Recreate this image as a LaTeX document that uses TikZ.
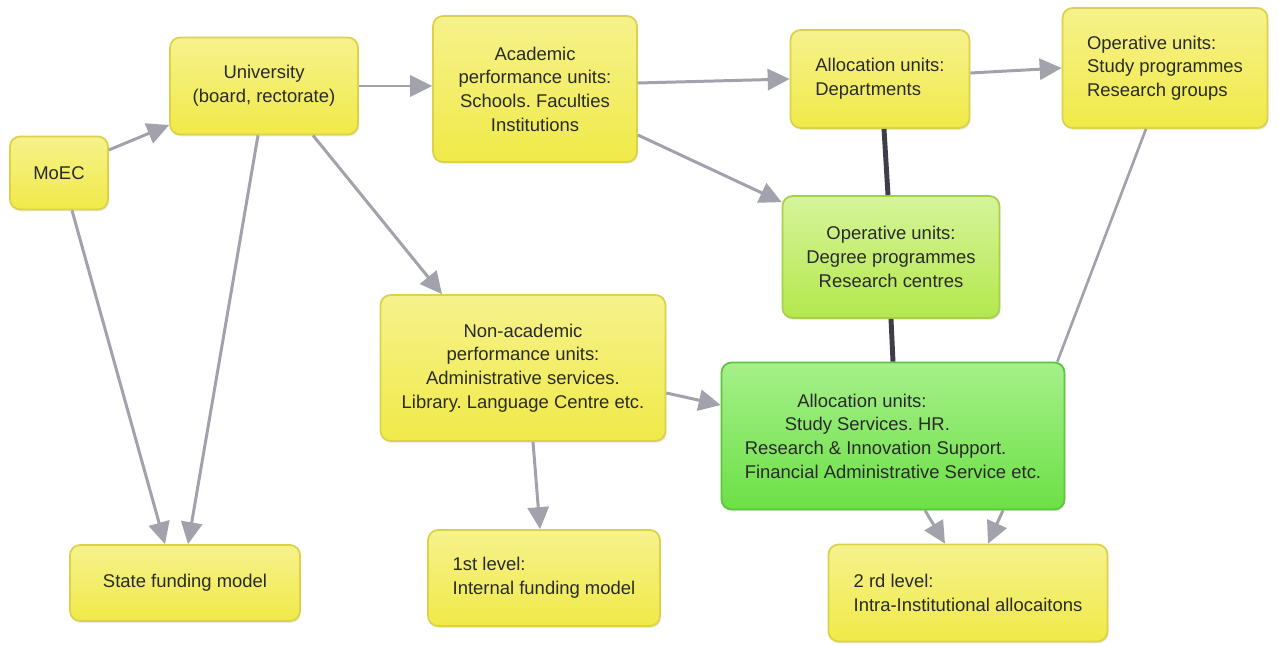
\documentclass[tikz,border=0pt]{standalone}
\usepackage{fontspec}
\setmainfont{Liberation Sans}
\usepackage{tikz}
\usetikzlibrary{arrows.meta}
\usetikzlibrary{shadows}
\frenchspacing

\definecolor{yellowtop}{HTML}{F6F28C}
\definecolor{yellowbot}{HTML}{F0EA48}
\definecolor{edgeyellow}{HTML}{DCD24A}
\definecolor{limetop}{HTML}{D6F49A}
\definecolor{limebot}{HTML}{B4E84C}
\definecolor{edgelime}{HTML}{A6D24A}
\definecolor{greentop}{HTML}{A6F08A}
\definecolor{greenbot}{HTML}{6CE046}
\definecolor{edgegreen}{HTML}{5CC43E}
\definecolor{arrowgray}{HTML}{A2A2AC}
\definecolor{linkdark}{HTML}{3E3E48}
\definecolor{textdark}{HTML}{2A2A2A}

\tikzset{
  unit/.style={draw=edgeyellow, line width=1pt, top color=yellowtop, bottom color=yellowbot,
    rounded corners=0.2cm, inner sep=0pt, align=center, text=textdark,
    font=\fontsize{10.5}{13.5}\selectfont,
    drop shadow={opacity=0.18, shadow xshift=0.5pt, shadow yshift=-1pt}},
  limeunit/.style={unit, draw=edgelime, top color=limetop, bottom color=limebot},
  greenunit/.style={unit, draw=edgegreen, top color=greentop, bottom color=greenbot},
  flow/.style={draw=arrowgray, line width=1.7pt, -{Triangle[length=12.5pt,width=12pt]}},
  tie/.style={draw=arrowgray, line width=1.5pt},
  boldtie/.style={draw=linkdark, line width=2.8pt}
}

\begin{document}
\begin{tikzpicture}[x=0.02cm,y=-0.02cm]
\useasboundingbox[fill=white] (0,0) rectangle (1279,646);

% boxes
\node[unit, minimum width=1.96cm, minimum height=1.46cm] (moec) at (59,173) {MoEC};
\node[unit, minimum width=3.76cm, minimum height=1.94cm] (uni) at (264,86) {University\\(board, rectorate)};
\node[unit, minimum width=4.08cm, minimum height=2.92cm] (acad) at (535,89) {Academic\\performance units:\\Schools. Faculties\\Institutions};
\node[unit, minimum width=3.58cm, minimum height=1.96cm, align=left] (dept) at (880,79) {Allocation units:\\Departments};
\node[unit, minimum width=4.10cm, minimum height=2.40cm, align=left] (study) at (1165,68) {Operative units:\\Study programmes\\Research groups};
\node[limeunit, minimum width=4.34cm, minimum height=2.44cm] (deg) at (891,257) {Operative units:\\Degree programmes\\Research centres};
\node[unit, minimum width=5.70cm, minimum height=2.92cm] (nonacad) at (523,368) {Non-academic\\performance units:\\Administrative services.\\Library. Language Centre etc.};
\node[greenunit, minimum width=6.86cm, minimum height=2.94cm, align=left] (serv) at (893,436) {\hspace*{1.05cm}Allocation units:\\\hspace*{0.8cm}Study Services. HR.\\Research \& Innovation Support.\\Financial Administrative Service etc.};
\node[unit, minimum width=4.60cm, minimum height=1.52cm] (state) at (185,583) {State funding model};
\node[unit, minimum width=4.64cm, minimum height=1.92cm, align=left] (first) at (544,578) {1st level:\\Internal funding model};
\node[unit, minimum width=5.58cm, minimum height=1.94cm, align=left] (second) at (968,593) {2 rd level:\\Intra-Institutional allocaitons};

% connectors
\draw[flow] ([yshift=0.46cm]moec.east) -- ([yshift=-0.78cm]uni.west);
\draw[flow] (uni.east) -- (uni.east -| acad.west);
\draw[flow] ([yshift=0.12cm]acad.east) -- (dept.west);
\draw[flow] ([yshift=0.12cm]dept.east) -- (study.west);
\draw[flow] ([yshift=-0.92cm]acad.east) -- ([yshift=-0.14cm]deg.north west);
\draw[flow] ([xshift=0.98cm]uni.south) -- ([xshift=-1.62cm]nonacad.north);
\draw[flow] ([xshift=-0.12cm]uni.south) -- ([xshift=0.06cm]state.north);
\draw[flow] ([xshift=0.26cm]moec.south) -- ([xshift=-0.4cm]state.north);
\draw[flow] ([yshift=-0.5cm]nonacad.east) -- ([yshift=0.62cm]serv.west);
\draw[flow] ([xshift=0.2cm]nonacad.south) -- ([xshift=-0.08cm]first.north);
\draw[boldtie] ([xshift=0.08cm]dept.south) -- ([xshift=-0.06cm]deg.north);
\draw[boldtie] (deg.south) -- (serv.north);
\draw[tie] ([xshift=-0.38cm]study.south) -- ([xshift=-0.16cm]serv.north east);
\draw[flow] ([xshift=0.64cm]serv.south) -- ([xshift=-0.46cm]second.north);
\draw[flow] ([xshift=2.2cm]serv.south) -- ([xshift=0.4cm]second.north);
\end{tikzpicture}
\end{document}
